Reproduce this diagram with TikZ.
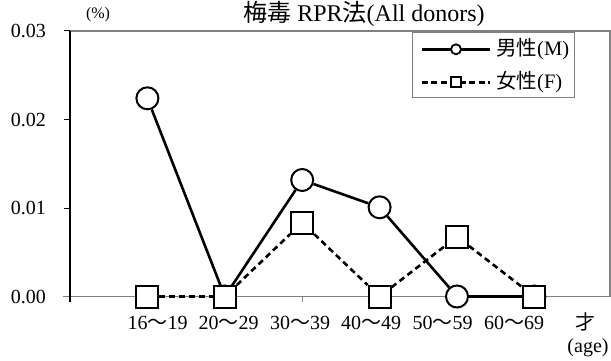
\documentclass[tikz,border=0pt]{standalone}
\usepackage{fontspec}
\setmainfont{Liberation Serif}
\newfontfamily\cjk{Noto Sans CJK JP}
\usepackage{tikz}
\usetikzlibrary{positioning}
\definecolor{framegray}{RGB}{128,128,128}
\tikzset{
  frame line/.style={draw=framegray, line width=2.5pt},
  y axis line/.style={draw=black, line width=1.8pt},
  male line/.style={draw=black, line width=2.6pt},
  female line/.style={draw=black, line width=2.6pt, dash pattern=on 6pt off 4pt},
  male point/.style={circle, draw=black, fill=white, line width=2pt, minimum size=22pt, inner sep=0pt},
  female point/.style={rectangle, draw=black, fill=white, line width=2pt, minimum size=22pt, inner sep=0pt},
  value label/.style={anchor=east, inner sep=0pt, font=\fontsize{20}{20}\selectfont},
  age label/.style={inner sep=0pt, font=\fontsize{20}{20}\selectfont},
  legend text/.style={anchor=west, inner sep=0pt, font=\fontsize{20.5}{20.5}\selectfont},
  legend male/.style={circle, draw=black, fill=white, line width=1.8pt, minimum size=10pt, inner sep=0pt},
  legend female/.style={rectangle, draw=black, fill=white, line width=1.8pt, minimum size=10pt, inner sep=0pt},
}

\begin{document}
\begin{tikzpicture}[x=1pt,y=-1pt]
\useasboundingbox (0,0) rectangle (611,361);
%the frame
\draw[frame line] (70,31) -- (610,31) -- (610,296.5);
\draw[framegray, line width=1.8pt] (63,296.5) -- (610,296.5);
\draw[framegray, line width=1.2pt] (302.2,296.5) -- (302.2,302);
\draw[framegray, line width=1.2pt] (534.4,296.5) -- (534.4,302);
\draw[y axis line] (70,31) -- (70,302);
\draw[line width=1pt] (64,31) -- (70,31);
\draw[line width=1pt] (64,119.5) -- (70,119.5);
\draw[line width=1pt] (64,208) -- (70,208);
%the titles
\node[inner sep=0pt, font=\fontsize{24}{24}\selectfont] (title) at (364,14) {{\cjk 梅毒} RPR{\cjk 法}(All donors)};
\node[inner sep=0pt, font=\fontsize{16}{16}\selectfont] (unit) at (98,15) {(\%)};
%the value labels
\node[value label] (v3) at (46,31) {0.03};
\node[value label] (v2) at (46,119.5) {0.02};
\node[value label] (v1) at (46,208) {0.01};
\node[value label] (v0) at (46,296.5) {0.00};
%the age labels
\node[age label] (a1) at (157.5,323) {16{\cjk ～}19};
\node[age label] (a2) at (228.7,323) {20{\cjk ～}29};
\node[age label] (a3) at (300,323) {30{\cjk ～}39};
\node[age label] (a4) at (371.2,323) {40{\cjk ～}49};
\node[age label] (a5) at (442.5,323) {50{\cjk ～}59};
\node[age label] (a6) at (514,323) {60{\cjk ～}69};
\node[age label, font=\cjk\fontsize{20}{20}\selectfont] (sai) at (585,322) {才};
\node[age label] (age) at (588,348) {(age)};
%the male points
\node[male point] (m1) at (147.4,98.3) {};
\node[male point] (m2) at (224.8,296.5) {};
\node[male point] (m3) at (302.2,180) {};
\node[male point] (m4) at (379.6,207.3) {};
\node[male point] (m5) at (457,296.5) {};
\node[male point] (m6) at (534.4,296.5) {};
\draw[male line] (m1) -- (m2);
\draw[male line] (m2) -- (m3);
\draw[male line] (m3) -- (m4);
\draw[male line] (m4) -- (m5);
\draw[male line] (m5) -- (m6);
%the female points
\node[female point] (f1) at (147.4,296.5) {};
\node[female point] (f2) at (224.8,296.5) {};
\node[female point] (f3) at (302.2,222.7) {};
\node[female point] (f4) at (379.6,296.5) {};
\node[female point] (f5) at (457,236.7) {};
\node[female point] (f6) at (534.4,296.5) {};
\draw[female line] (f1) -- (f2);
\draw[female line] (f2) -- (f3);
\draw[female line] (f3) -- (f4);
\draw[female line] (f4) -- (f5);
\draw[female line] (f5) -- (f6);
%the legend
\draw[framegray, line width=1pt, fill=white] (412,33) rectangle (574,98);
\coordinate (lma) at (421.7,49.3);
\coordinate (lmb) at (490,49.3);
\coordinate (lfa) at (421.7,82.3);
\coordinate (lfb) at (490,82.3);
\draw[male line] (lma) -- (lmb);
\draw[female line, dash pattern=on 6pt off 3.5pt] (lfa) -- (lfb);
\node[legend male] (lm) at (456,49.3) {};
\node[legend female] (lf) at (456,82.3) {};
\node[legend text] (lmt) at (496,49.3) {{\cjk 男性}(M)};
\node[legend text] (lft) at (496,82.3) {{\cjk 女性}(F)};
\end{tikzpicture}
\end{document}
